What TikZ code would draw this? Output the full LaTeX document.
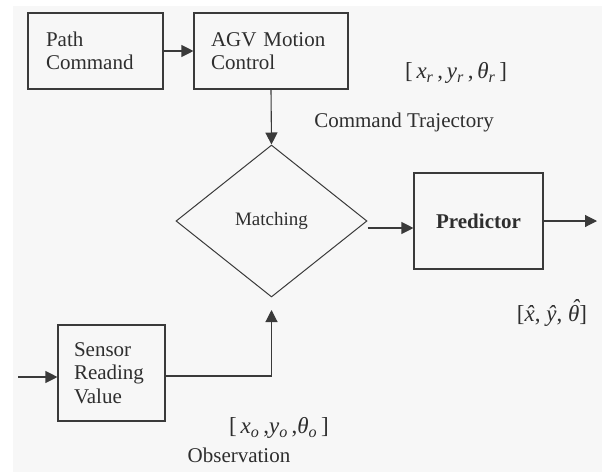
\documentclass[tikz,border=0pt]{standalone}
\usepackage{fontspec}
\setmainfont{Liberation Serif}
\usetikzlibrary{shapes.geometric,arrows.meta,calc}
\definecolor{bgc}{HTML}{F7F7F7}
\definecolor{linec}{HTML}{3A3A3A}
\definecolor{txt}{HTML}{2E2E2E}
\newcommand{\mainsz}{\fontsize{21pt}{23.5pt}\selectfont}
\newcommand{\mathsz}{\fontsize{23pt}{26pt}\selectfont}
\newcommand{\vsub}[2]{\textit{#1}\textsubscript{\textit{#2}}}
\newcommand{\vhat}[1]{{\itshape\accent"02C6 #1}}
\begin{document}
\begin{tikzpicture}[x=1pt,y=-1pt,
  box/.style={draw=linec, line width=1.1pt, rectangle, inner sep=0pt, font=\mainsz, text=txt, align=left},
  dia/.style={draw=linec, line width=1pt, diamond, inner sep=0pt, font=\fontsize{19pt}{22pt}\selectfont, text=txt},
  lbl/.style={inner sep=0pt, font=\mainsz, text=txt},
  mlbl/.style={inner sep=0pt, font=\mathsz, text=txt},
  arr/.style={draw=linec, line width=1.1pt, -{Triangle[length=12pt,width=12pt]}},
  ln/.style={draw=linec, line width=1.1pt}]
\useasboundingbox (0,0) rectangle (602,472);
\fill[white] (0,0) rectangle (602,472);
\fill[bgc] (13,6) rectangle (602,472);

\node[box, minimum width=135pt, minimum height=76pt, text width=99pt] (pc) at (95.5,51) {Path\\Command};
\node[box, minimum width=154pt, minimum height=76pt, text width=120pt] (agv) at (271,51) {AGV Motion\\Control};
\node[dia, minimum width=191pt, minimum height=152pt] (match) at (271.5,221) {Matching};
\node[box, minimum width=129pt, minimum height=96pt, font=\mainsz\bfseries, align=center] (pred) at (478.5,221) {Predictor};
\node[box, minimum width=107pt, minimum height=96pt, text width=75pt] (sens) at (111.5,373) {Sensor\\Reading\\Value};

\coordinate (in) at (18,377);
\coordinate (out) at (597,221);
\coordinate (tip) at (271.5,310);

\draw[arr] (pc.east) -- (agv.west);
\draw[arr] (agv.south) -- (match.north);
\draw[arr] ($(match.east)+(0,7)$) -- (pred.west |- {$(match.east)+(0,7)$});
\draw[arr] (pred.east) -- (out);
\draw[arr] (in) -- (sens.west |- in);
\draw[arr] ($(sens.east)+(0,3)$) -| (tip);

\node[mlbl] (xr) at (456,73) {[\,\vsub{x}{r}\,,\,\vsub{y}{r}\,,\,\vsub{θ}{r}\,]};
\node[lbl] (ct) at (404,122) {Command Trajectory};
\node[mlbl] (xh) at (552,313) {[\vhat{x}, \vhat{y}, \vhat{θ}]};
\node[mlbl] (xo) at (279,428) {[\,\vsub{x}{o}\,,\vsub{y}{o}\,,\vsub{θ}{o}\,]};
\node[lbl] (ob) at (239,455) {Observation};
\end{tikzpicture}
\end{document}
